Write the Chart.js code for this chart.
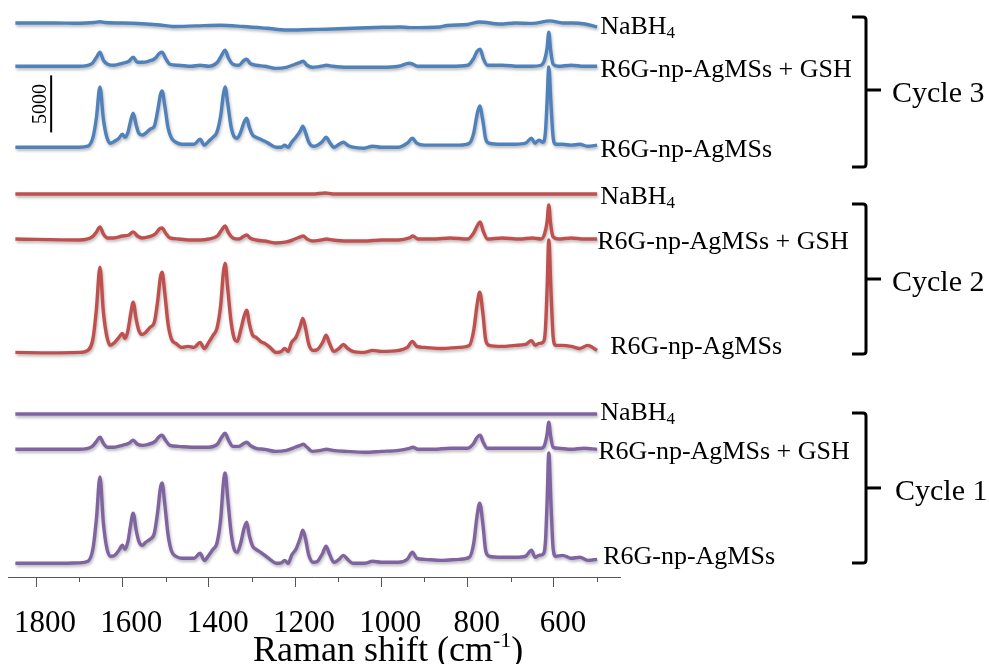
<!DOCTYPE html>
<html>
<head>
<meta charset="utf-8">
<script src="https://cdn.jsdelivr.net/npm/chart.js@4.4.1/dist/chart.umd.min.js"></script>
<style>
html,body{margin:0;padding:0;background:#ffffff;}
#wrap{width:989px;height:664px;position:relative;overflow:hidden;}
</style>
</head>
<body>
<div id="wrap"><canvas id="c" width="989" height="664"></canvas></div>
<script>
// ---------- DATA ----------
// Raman shift grids (cm-1)
const wnR6G = [1848,1760,1700,1680,1668,1660,1652,1644,1636,1628,
  1618,1608,1600,1594,1587,1581,1575,1568,1562,1554,
  1546,1536,1526,1518,1512,1508,1502,1494,1486,1476,
  1462,1448,1434,1420,1410,1400,1390,1381,1372,1366,
  1362,1356,1348,1340,1334,1326,1318,1312,1306,1298,
  1290,1280,1270,1258,1244,1232,1224,1216,1208,1198,
  1188,1182,1176,1168,1158,1148,1136,1128,1120,1110,
  1098,1088,1078,1066,1040,1020,1000,960,940,928,
  918,900,860,820,796,786,778,772,765,758,
  750,720,690,666,652,644,635,626,620,616,
  612,607,602,596,580,560,540,522,500];
const wnGSH = [1848,1700,1670,1660,1652,1644,1634,1620,1600,1585,
  1575,1565,1554,1540,1524,1514,1508,1500,1490,1470,
  1440,1420,1400,1380,1370,1362,1354,1344,1330,1318,
  1312,1304,1290,1270,1245,1220,1200,1188,1181,1172,
  1160,1140,1127,1112,1080,1040,1000,960,935,927,
  915,880,840,800,786,778,771,764,754,720,
  680,650,630,622,616,612,608,602,590,560,
  530,500];
const wnNaBH4 = [1848,1760,1700,1665,1652,1640,1575,1513,1483,1430,
  1374,1320,1265,1219,1160,1130,1112,1050,996,957,
  934,864,848,800,772,725,690,650,609,580,
  556,528,500];

// Intensities (counts, relative to each trace's own baseline)
const cycle1_R6G = [0,0,40,180,1320,3960,7570,3520,1320,620,
  700,1140,1580,1230,1940,3340,4400,2900,1940,1580,
  1850,2110,2640,4580,6600,7040,5280,2460,1060,620,
  440,440,440,880,260,700,1230,1760,3960,7040,
  7920,5720,2640,1140,970,1760,3080,3610,2460,1500,
  1230,970,700,350,0,40,260,0,700,1230,
  2200,2900,2200,700,90,180,880,1500,790,90,
  350,700,350,0,0,180,90,90,350,970,
  440,350,260,350,530,1760,4220,5280,3520,1060,
  620,530,530,620,1140,530,700,790,1760,5280,
  9680,5280,1320,620,700,440,530,260,350];
const cycle2_R6G = [0,-40,0,180,1230,3870,7480,3520,1410,620,
  880,1320,1670,1230,1940,3340,4400,2900,1940,1580,
  1760,2200,2640,4580,6600,7040,5280,2460,1140,790,
  440,530,440,880,350,880,1500,2110,4220,7040,
  7830,5630,2640,1140,970,1940,3170,3700,2550,1500,
  1320,970,790,440,0,90,350,90,880,1320,
  2290,2990,2200,700,180,260,880,1500,790,90,
  350,700,350,90,0,180,90,180,440,970,
  530,440,350,440,620,1940,4220,5280,3520,1060,
  620,530,620,700,1060,620,790,880,1940,5460,
  9860,5460,1410,620,620,530,350,620,180];
const cycle3_R6G = [0,0,0,90,880,2640,5280,2460,880,350,
  530,790,1140,880,1320,2290,2990,1940,1230,1060,
  1230,1580,1850,3260,4580,4930,3700,1670,790,440,
  260,260,260,700,180,530,880,1320,2820,4660,
  5280,3870,1760,880,790,1320,2200,2550,1760,1060,
  880,700,530,260,0,0,180,0,440,880,
  1410,1850,1320,440,90,180,530,880,440,0,
  260,440,180,0,-90,90,0,0,350,790,
  350,180,180,180,350,1230,2900,3610,2380,700,
  350,260,260,350,790,350,620,440,1230,3960,
  7040,3870,880,260,260,180,260,90,180];

const cycle1_GSH = [0,0,260,700,1060,530,180,180,350,530,
  790,440,350,440,700,1140,1230,790,350,260,
  180,180,180,440,1060,1410,790,260,260,530,
  620,350,90,0,-180,-90,180,350,440,180,
  -180,-90,0,-90,-180,-260,-180,-90,90,180,
  0,0,90,90,530,1060,1230,620,90,90,
  90,90,90,350,1320,2380,1230,180,90,0,
  90,0];
const cycle2_GSH = [0,-90,180,620,1060,440,90,90,260,350,
  620,260,90,180,440,880,970,530,90,0,
  -90,-90,0,260,790,1140,530,90,0,260,
  350,90,-90,-180,-350,-260,0,180,260,0,
  -180,-90,0,-90,-180,-180,-90,-90,90,260,
  0,0,90,0,530,1140,1500,700,0,90,
  0,90,0,440,1500,2990,1410,180,0,90,
  0,0];
const cycle3_GSH = [0,0,260,790,1230,530,180,90,260,440,
  790,350,350,440,700,1140,1230,700,180,90,
  0,90,0,350,970,1410,700,180,90,530,
  620,260,90,0,-180,-90,180,350,440,90,
  -90,0,90,0,-90,-90,-90,0,260,180,
  0,0,0,90,700,1320,1500,700,90,90,
  0,0,90,530,1580,2990,1500,180,0,90,
  0,0];

const cycle1_NaBH4 = [0,0,0,0,0,0,0,0,0,0, 0,0,0,0,0,0,0,0,0,0, 0,0,0,0,0,0,0,0,0,0, 0,0,0];
const cycle2_NaBH4 = [0,0,0,0,0,0,0,0,0,0, 0,0,0,0,0,90,0,0,0,0, 0,0,0,0,0,0,0,0,0,0, 0,0,0];
const cycle3_NaBH4 = [0,0,-30,40,110,40,-30,-180,-310,-260,
  -200,-310,-470,-620,-570,-550,-530,-440,-380,-350,
  -410,-350,-220,-130,90,-90,0,-40,180,0,
  0,-90,-350];

// Vertical offsets of the stacked traces (counts): [NaBH4, +GSH, R6G]
const offsetCycle1 = [14300, 11200, 1200];
const offsetCycle2 = [33600, 29650, 19700];
const offsetCycle3 = [48600, 44800, 37700];

const traceNames = ['NaBH4', 'R6G-np-AgMSs + GSH', 'R6G-np-AgMSs'];
const cycleNames = ['Cycle 1', 'Cycle 2', 'Cycle 3'];
// Bracket extents for each cycle (counts): [top, middle, bottom]
const bracketCycle1 = [14390, 7810, 1230];
const bracketCycle2 = [32720, 26140, 19560];
const bracketCycle3 = [49120, 42720, 35965];

const xTickValues = [600, 800, 1000, 1200, 1400, 1600, 1800];
const xMinorTicks = [500, 700, 900, 1100, 1300, 1500, 1700];
const scaleBarWn = 1765;
const scaleBarFrom = 39000;
const scaleBarSize = 5000;

// ---------- STYLE ----------
const colors = ['#8064A2', '#C0504D', '#4F81BD'];
const serif = '"Liberation Serif", "Times New Roman", serif';
// label placement tweaks (px) [dx, dy] per cycle, per trace
const labelShift = [
  [[3,-1],[1,3],[6,-6]],
  [[3,3],[0,3],[13,-5]],
  [[3,4],[3,4],[3,3]]
];

// ---------- BUILD ----------
const grids = [wnNaBH4, wnGSH, wnR6G];
const allVals = [
  [cycle1_NaBH4, cycle1_GSH, cycle1_R6G],
  [cycle2_NaBH4, cycle2_GSH, cycle2_R6G],
  [cycle3_NaBH4, cycle3_GSH, cycle3_R6G]
];
const allOffsets = [offsetCycle1, offsetCycle2, offsetCycle3];
const brackets = [bracketCycle1, bracketCycle2, bracketCycle3];

const datasets = [];
for (let c = 0; c < 3; c++) {
  for (let k = 0; k < 3; k++) {
    const wn = grids[k], vals = allVals[c][k], off = allOffsets[c][k];
    datasets.push({
      label: cycleNames[c] + ' ' + traceNames[k],
      data: wn.map((x, i) => ({x: x, y: off + vals[i]})),
      borderColor: colors[c],
      borderWidth: 3.4,
      pointRadius: 0,
      cubicInterpolationMode: 'monotone',
      fill: false,
      spectrum: true
    });
  }
}
datasets.push({
  label: 'scale',
  data: [{x: scaleBarWn, y: scaleBarFrom}, {x: scaleBarWn, y: scaleBarFrom + scaleBarSize}],
  borderColor: '#000', borderWidth: 2, pointRadius: 0, spectrum: false
});

const deco = {
  id: 'deco',
  beforeDatasetDraw(chart, args) {
    const ds = chart.data.datasets[args.index];
    const ctx = chart.ctx;
    ctx.save();
    if (ds.spectrum) {
      ctx.shadowColor = 'rgba(0,0,0,0.28)';
      ctx.shadowBlur = 3;
      ctx.shadowOffsetX = 1;
      ctx.shadowOffsetY = 2;
    }
  },
  afterDatasetDraw(chart) { chart.ctx.restore(); },
  afterDraw(chart) {
    const ctx = chart.ctx, xs = chart.scales.x, ys = chart.scales.y, area = chart.chartArea;
    ctx.save();
    // minor ticks
    ctx.strokeStyle = '#555'; ctx.lineWidth = 1;
    xMinorTicks.forEach(v => {
      const px = Math.round(xs.getPixelForValue(v)) + 0.5;
      ctx.beginPath(); ctx.moveTo(px, area.bottom); ctx.lineTo(px, area.bottom + 5); ctx.stroke();
    });
    ctx.fillStyle = '#000';
    ctx.textAlign = 'left';
    // trace labels
    const endX = xs.getPixelForValue(500);
    for (let c = 0; c < 3; c++) {
      for (let k = 0; k < 3; k++) {
        const y = ys.getPixelForValue(allOffsets[c][k]) + labelShift[c][k][1];
        const x = endX + labelShift[c][k][0];
        ctx.textBaseline = 'middle';
        ctx.font = '26px ' + serif;
        if (k === 0) {
          ctx.fillText('NaBH', x, y);
          const w = ctx.measureText('NaBH').width;
          ctx.font = '17px ' + serif;
          ctx.fillText('4', x + w, y + 7);
        } else {
          ctx.fillText(traceNames[k], x, y);
        }
      }
      // bracket
      const b = brackets[c];
      const yt = ys.getPixelForValue(b[0]), ym = ys.getPixelForValue(b[1]), yb = ys.getPixelForValue(b[2]);
      const bx = 866;
      ctx.strokeStyle = '#000'; ctx.lineWidth = 3; ctx.lineJoin = 'round'; ctx.lineCap = 'butt';
      ctx.beginPath();
      ctx.moveTo(bx - 14, yt); ctx.lineTo(bx - 3, yt);
      ctx.quadraticCurveTo(bx, yt, bx, yt + 3);
      ctx.lineTo(bx, yb - 3);
      ctx.quadraticCurveTo(bx, yb, bx - 3, yb);
      ctx.lineTo(bx - 14, yb);
      ctx.stroke();
      ctx.beginPath(); ctx.moveTo(bx, ym); ctx.lineTo(bx + 15, ym); ctx.stroke();
      ctx.font = '30px ' + serif;
      ctx.textBaseline = 'middle';
      ctx.fillText(cycleNames[c], c === 0 ? 895 : 892, ym + 4);
    }
    // scale bar label
    const sbx = xs.getPixelForValue(scaleBarWn);
    const sby = ys.getPixelForValue(scaleBarFrom + scaleBarSize / 2);
    ctx.save();
    ctx.translate(sbx - 10, sby);
    ctx.rotate(-Math.PI / 2);
    ctx.font = '20px ' + serif;
    ctx.textAlign = 'center'; ctx.textBaseline = 'middle';
    ctx.fillText('5000', 0, 0);
    ctx.restore();
    // axis title
    ctx.textAlign = 'left'; ctx.textBaseline = 'alphabetic';
    ctx.font = '36px ' + serif;
    const tx = 253, ty = 661;
    ctx.fillText('Raman shift (cm', tx, ty);
    let w = ctx.measureText('Raman shift (cm').width;
    ctx.font = '22px ' + serif;
    ctx.fillText('-1', tx + w, ty - 14);
    w += ctx.measureText('-1').width;
    ctx.font = '36px ' + serif;
    ctx.fillText(')', tx + w, ty);
    ctx.restore();
  }
};

Chart.defaults.font.family = serif;
new Chart(document.getElementById('c'), {
  type: 'line',
  data: { datasets: datasets },
  options: {
    responsive: false,
    animation: false,
    layout: { padding: { left: 8, right: 369, top: 7, bottom: 0 } },
    plugins: { legend: { display: false }, tooltip: { enabled: false } },
    scales: {
      x: {
        type: 'linear', reverse: true, min: 447, max: 1865,
        border: { display: true, color: '#555', width: 1 },
        grid: { display: true, drawOnChartArea: false, drawTicks: true, tickLength: 10, color: '#555', lineWidth: 1 },
        afterBuildTicks: (s) => { s.ticks = xTickValues.map(v => ({value: v})); },
        afterFit: (s) => { s.height = 87; },
        ticks: { autoSkip: false, maxRotation: 0, padding: 18, labelOffset: 9, color: '#000',
          font: { family: serif, size: 31 }, callback: v => String(v) }
      },
      y: { type: 'linear', display: false, min: 0, max: 50000 }
    }
  },
  plugins: [deco]
});
</script>
</body>
</html>
